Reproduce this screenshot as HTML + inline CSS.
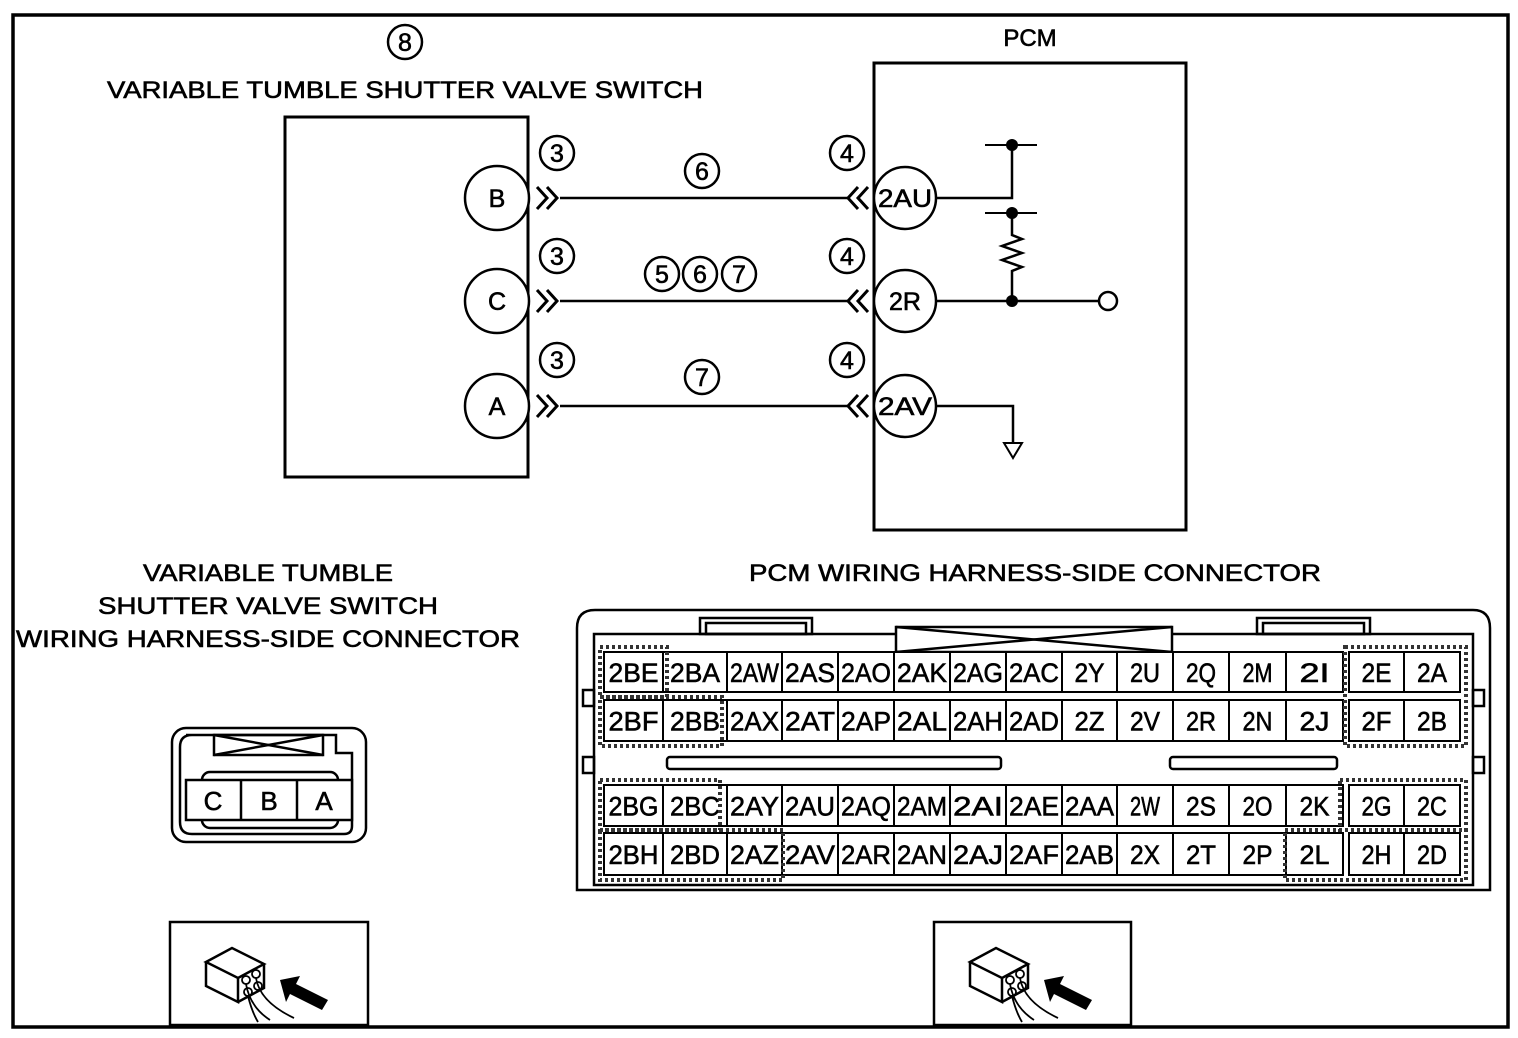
<!DOCTYPE html>
<html><head><meta charset="utf-8"><style>
html,body{margin:0;padding:0;background:#fff}
svg{display:block}
text{font-family:"Liberation Sans",Arial,sans-serif;fill:#000;stroke:#000;stroke-width:0.6}
</style></head><body>
<svg id="s" width="1518" height="1038" viewBox="0 0 1518 1038" xmlns="http://www.w3.org/2000/svg">
<rect x="0" y="0" width="1518" height="1038" fill="#fff"/>
<rect x="13" y="15" width="1495" height="1012" fill="none" stroke="#000" stroke-width="3.5"/>
<g stroke="#000" stroke-width="3" fill="none">
<rect x="285" y="117" width="243" height="360"/>
<rect x="874" y="63" width="312" height="467"/>
<line x1="560" y1="198" x2="850" y2="198" stroke-width="2.5"/>
<line x1="560" y1="301" x2="850" y2="301" stroke-width="2.5"/>
<line x1="560" y1="406" x2="850" y2="406" stroke-width="2.5"/>
<polyline points="537,187 547,198 537,209"/><polyline points="547,187 557,198 547,209"/>
<polyline points="537,290 547,301 537,312"/><polyline points="547,290 557,301 547,312"/>
<polyline points="537,395 547,406 537,417"/><polyline points="547,395 557,406 547,417"/>
<polyline points="858,187 848,198 858,209"/><polyline points="868,187 858,198 868,209"/>
<polyline points="858,290 848,301 858,312"/><polyline points="868,290 858,301 868,312"/>
<polyline points="858,395 848,406 858,417"/><polyline points="868,395 858,406 868,417"/>
<polyline points="937,198 1012,198 1012,145" stroke-width="2.5"/>
<line x1="985" y1="145" x2="1037" y2="145" stroke-width="2"/>
<line x1="985" y1="213" x2="1037" y2="213" stroke-width="2"/>
<polyline points="1012,213 1012,235 1022,239 1002,246 1022,253 1002,260 1022,267 1012,271 1012,301" stroke-width="2.5"/>
<line x1="937" y1="301" x2="1099" y2="301" stroke-width="2.5"/>
<circle cx="1108" cy="301" r="9" fill="#fff" stroke-width="2.5"/>
<polyline points="937,406 1013,406 1013,442" stroke-width="2.5"/>
<polygon points="1004,443 1022,443 1013,458" stroke-width="2"/>
</g>
<g fill="#000"><circle cx="1012" cy="145" r="6"/><circle cx="1012" cy="213" r="6"/><circle cx="1012" cy="301" r="6"/></g>
<g stroke="#000" stroke-width="2.5" fill="#fff">
<circle cx="497" cy="198" r="32"/><circle cx="497" cy="301" r="32"/><circle cx="497" cy="406" r="32"/>
<circle cx="905" cy="198" r="31"/><circle cx="905" cy="301" r="31"/><circle cx="905" cy="406" r="31"/>
</g>
<g font-size="25" text-anchor="middle">
<text x="497" y="207">B</text><text x="497" y="310">C</text><text x="497" y="415">A</text>
<text x="905" y="207" textLength="54" lengthAdjust="spacingAndGlyphs">2AU</text><text x="905" y="310">2R</text><text x="905" y="415" textLength="54" lengthAdjust="spacingAndGlyphs">2AV</text>
</g>
<g id="circ" stroke="#000" stroke-width="2.5" fill="none"></g>
<g font-size="24" text-anchor="middle">
<text x="1030" y="46">PCM</text>
<text x="405" y="98" textLength="596" lengthAdjust="spacingAndGlyphs">VARIABLE TUMBLE SHUTTER VALVE SWITCH</text>
<text x="268" y="581" textLength="250" lengthAdjust="spacingAndGlyphs">VARIABLE TUMBLE</text>
<text x="268" y="614" textLength="340" lengthAdjust="spacingAndGlyphs">SHUTTER VALVE SWITCH</text>
<text x="268" y="647" textLength="504" lengthAdjust="spacingAndGlyphs">WIRING HARNESS-SIDE CONNECTOR</text>
<text x="1035" y="581" textLength="572" lengthAdjust="spacingAndGlyphs">PCM WIRING HARNESS-SIDE CONNECTOR</text>
</g>
<g stroke="#000" stroke-width="2.5" fill="none">
<rect x="172" y="728" width="194" height="114" rx="14"/>
<path d="M186 735 H336 V753 H352 V826 Q352 834 344 834 H192 Q180 834 180 822 V747 Q180 735 192 735 Z"/>
<rect x="214" y="735" width="109" height="20"/>
<line x1="214" y1="735" x2="323" y2="755"/><line x1="214" y1="755" x2="323" y2="735"/>
<rect x="202" y="772" width="136" height="56" rx="8"/>
<rect x="186" y="780" width="166" height="40" fill="#fff"/>
<line x1="241" y1="780" x2="241" y2="820"/><line x1="297" y1="780" x2="297" y2="820"/>
</g>
<g font-size="26" text-anchor="middle"><text x="213" y="810">C</text><text x="269" y="810">B</text><text x="324" y="810">A</text></g>
<g stroke="#000" stroke-width="2.5" fill="none">
<path d="M577 628 Q577 610 595 610 H1473 Q1490 610 1490 628 V890 H577 Z"/>
<rect x="594" y="634" width="879" height="251"/>
<rect x="700" y="618" width="112" height="16"/><rect x="706" y="623" width="100" height="11"/>
<rect x="1257" y="618" width="113" height="16"/><rect x="1263" y="623" width="101" height="11"/>
<rect x="896" y="627" width="276" height="25" fill="#fff"/>
<line x1="896" y1="627" x2="1172" y2="652"/><line x1="896" y1="652" x2="1172" y2="627"/>
<rect x="667" y="757" width="334" height="12" rx="3"/>
<rect x="1170" y="757" width="167" height="12" rx="3"/>
<rect x="583" y="690" width="11" height="16"/><rect x="583" y="757" width="11" height="16"/>
<rect x="1473" y="690" width="11" height="16"/><rect x="1473" y="757" width="11" height="16"/>
</g>
<g id="grid"></g>
<g stroke="#000" stroke-width="2.5" fill="none">
<rect x="170" y="922" width="198" height="103"/>
<rect x="934" y="922" width="197" height="103"/>
</g>
<g id="ic1" transform="translate(170,922)"></g>
<g id="ic2" transform="translate(934,922)"></g>
</svg>
<script>
var NS="http://www.w3.org/2000/svg";
function el(p,t,a,txt){var e=document.createElementNS(NS,t);for(var k in a)e.setAttribute(k,a[k]);if(txt)e.textContent=txt;p.appendChild(e);return e;}
var circ=document.getElementById('circ'),s=document.getElementById('s');
var cn=[["8",405,42],["3",557,153],["3",557,256],["3",557,360],["4",847,153],["4",847,256],["4",847,360],["6",702,171],["5",662,274],["6",700,274],["7",739,274],["7",702,377]];
cn.forEach(function(c){el(circ,'circle',{cx:c[1],cy:c[2],r:17});el(s,'text',{x:c[1],y:c[2]+9,'font-size':25,'text-anchor':'middle'},c[0]);});
var g=document.getElementById('grid');
var xs=[604,663,727,782,838,894,950,1006,1062,1117,1173,1229,1286,1349,1404,1460];
var ys=[[652,692],[700,741],[785,826],[833,875]];
var R=[["2BE","2BA","2AW","2AS","2AO","2AK","2AG","2AC","2Y","2U","2Q","2M","2I","2E","2A"],
["2BF","2BB","2AX","2AT","2AP","2AL","2AH","2AD","2Z","2V","2R","2N","2J","2F","2B"],
["2BG","2BC","2AY","2AU","2AQ","2AM","2AI","2AE","2AA","2W","2S","2O","2K","2G","2C"],
["2BH","2BD","2AZ","2AV","2AR","2AN","2AJ","2AF","2AB","2X","2T","2P","2L","2H","2D"]];
for(var r=0;r<4;r++)for(var c=0;c<15;c++){
 var x0=xs[c],x1=(c==12?1343:xs[c+1]);var y0=ys[r][0],y1=ys[r][1];
 el(g,'rect',{x:x0,y:y0,width:x1-x0,height:y1-y0,fill:'#fff',stroke:'#000','stroke-width':2});
 var t=R[r][c];
 var a={x:(x0+x1)/2,y:(y0+y1)/2+10,'font-size':27,'text-anchor':'middle'};
 if(t.length==3){a.textLength=Math.min(50,x1-x0-6);a.lengthAdjust='spacingAndGlyphs';}
 else if(t.length==2){a.textLength=30;a.lengthAdjust='spacingAndGlyphs';}
 el(g,'text',a,t);
}
var H=[[600,647,667,697],[600,697,722,746],[1345,647,1466,746],[600,780,720,830],[600,830,783,880],[1340,780,1466,830],[1285,830,1466,880]];
H.forEach(function(h){el(g,'rect',{x:h[0],y:h[1],width:h[2]-h[0],height:h[3]-h[1],fill:'none',stroke:'#333','stroke-width':4,'stroke-dasharray':'3 3'});});
function icon(id){var p=document.getElementById(id);
 el(p,'path',{d:'M36 40 L62 26 L94 42 L68 56 Z M36 40 V64 L68 80 V56 M68 80 L94 66 V42',fill:'#fff',stroke:'#000','stroke-width':2.5});
 [[76,58],[86,52],[78,70],[88,64]].forEach(function(q){el(p,'circle',{cx:q[0],cy:q[1],r:4,fill:'none',stroke:'#000','stroke-width':1.8});});
 el(p,'path',{d:'M76 62 Q80 85 100 98 M86 56 Q90 80 124 96 M78 74 Q82 90 88 100',fill:'none',stroke:'#000','stroke-width':1.8});
 el(p,'polygon',{points:'110,58 130,54 126,62 158,78 152,88 120,72 116,80',fill:'#000'});}
icon('ic1');icon('ic2');
</script>
</body></html>
